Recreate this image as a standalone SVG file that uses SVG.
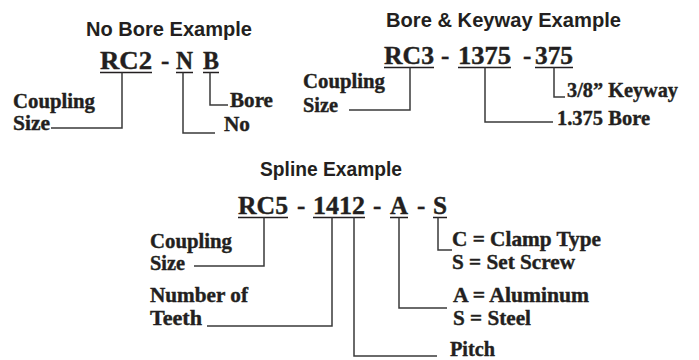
<svg xmlns="http://www.w3.org/2000/svg" width="699" height="360" viewBox="0 0 699 360">
<style>
.t{font-family:"Liberation Sans Narrow","Liberation Sans",Arial,sans-serif;font-weight:bold;font-size:21px;fill:#231f20}
.c{font-family:"Liberation Serif","Times New Roman",serif;font-weight:bold;font-size:25px;fill:#231f20;stroke:#231f20;stroke-width:0.4}
.l{font-family:"Liberation Serif","Times New Roman",serif;font-weight:bold;font-size:21px;fill:#231f20;stroke:#231f20;stroke-width:0.4}
.u{stroke:#231f20;stroke-width:1.5;fill:none}
.k{stroke:#3a3a3a;stroke-width:1.5;fill:none}
</style>
<rect width="699" height="360" fill="#ffffff"/>
<g id="noBore">
<text class="t" x="86" y="36" textLength="166" lengthAdjust="spacingAndGlyphs">No Bore Example</text>
<text class="c" x="100" y="69" textLength="52" lengthAdjust="spacingAndGlyphs">RC2</text>
<text class="c" x="161" y="69">-</text>
<text class="c" x="176" y="69" textLength="17" lengthAdjust="spacingAndGlyphs">N</text>
<text class="c" x="203" y="69" textLength="16" lengthAdjust="spacingAndGlyphs">B</text>
<path class="u" d="M100,72.5H152M176,72.5H193M203,72.5H219"/>
<text class="l" x="13" y="108" textLength="82" lengthAdjust="spacingAndGlyphs">Coupling</text>
<text class="l" x="13" y="130" textLength="37" lengthAdjust="spacingAndGlyphs">Size</text>
<text class="l" x="230" y="107" textLength="43" lengthAdjust="spacingAndGlyphs">Bore</text>
<text class="l" x="224" y="131" textLength="26" lengthAdjust="spacingAndGlyphs">No</text>
</g>
<g id="boreKeyway">
<text class="t" x="386" y="27" textLength="235" lengthAdjust="spacingAndGlyphs">Bore &amp; Keyway Example</text>
<text class="c" x="384" y="64" textLength="50" lengthAdjust="spacingAndGlyphs">RC3</text>
<text class="c" x="441" y="64">-</text>
<text class="c" x="458" y="64" textLength="53" lengthAdjust="spacingAndGlyphs">1375</text>
<text class="c" x="523" y="64">-</text>
<text class="c" x="535" y="64" textLength="38" lengthAdjust="spacingAndGlyphs">375</text>
<path class="u" d="M384,67.5H434M458,67.5H511M535,67.5H573"/>
<text class="l" x="303" y="88" textLength="82" lengthAdjust="spacingAndGlyphs">Coupling</text>
<text class="l" x="303" y="112" textLength="35" lengthAdjust="spacingAndGlyphs">Size</text>
<text class="l" x="567" y="97" textLength="111" lengthAdjust="spacingAndGlyphs">3/8” Keyway</text>
<text class="l" x="557" y="125" textLength="93" lengthAdjust="spacingAndGlyphs">1.375 Bore</text>
</g>
<g id="spline">
<text class="t" x="260" y="176" textLength="142" lengthAdjust="spacingAndGlyphs">Spline Example</text>
<text class="c" x="238" y="214" textLength="50" lengthAdjust="spacingAndGlyphs">RC5</text>
<text class="c" x="297" y="214">-</text>
<text class="c" x="313" y="214" textLength="52" lengthAdjust="spacingAndGlyphs">1412</text>
<text class="c" x="373" y="214">-</text>
<text class="c" x="390" y="214" textLength="18" lengthAdjust="spacingAndGlyphs">A</text>
<text class="c" x="417" y="214">-</text>
<text class="c" x="433" y="214" textLength="14" lengthAdjust="spacingAndGlyphs">S</text>
<path class="u" d="M238,217.5H288M313,217.5H365M390,217.5H408M433,217.5H447"/>
<text class="l" x="150" y="248" textLength="82" lengthAdjust="spacingAndGlyphs">Coupling</text>
<text class="l" x="150" y="270" textLength="35" lengthAdjust="spacingAndGlyphs">Size</text>
<text class="l" x="150" y="302" textLength="98" lengthAdjust="spacingAndGlyphs">Number of</text>
<text class="l" x="150" y="325" textLength="52" lengthAdjust="spacingAndGlyphs">Teeth</text>
<text class="l" x="452" y="246" textLength="149" lengthAdjust="spacingAndGlyphs">C = Clamp Type</text>
<text class="l" x="452" y="269" textLength="123" lengthAdjust="spacingAndGlyphs">S = Set Screw</text>
<text class="l" x="453" y="302" textLength="136" lengthAdjust="spacingAndGlyphs">A = Aluminum</text>
<text class="l" x="453" y="325" textLength="78" lengthAdjust="spacingAndGlyphs">S = Steel</text>
<text class="l" x="450" y="356" textLength="45" lengthAdjust="spacingAndGlyphs">Pitch</text>
</g>
<g id="connectors">
<path class="k" d="M122,72.5V128H51"/>
<path class="k" d="M183,72.5V133H215"/>
<path class="k" d="M210,72.5V105H228"/>
<path class="k" d="M410,67.5V110H349"/>
<path class="k" d="M485,67.5V122H553"/>
<path class="k" d="M554,67.5V97H565"/>
<path class="k" d="M264,217.5V266H194"/>
<path class="k" d="M332,217.5V326H207"/>
<path class="k" d="M354,217.5V356H437"/>
<path class="k" d="M399,217.5V308H447"/>
<path class="k" d="M438,217.5V250H452"/>
</g>
</svg>
